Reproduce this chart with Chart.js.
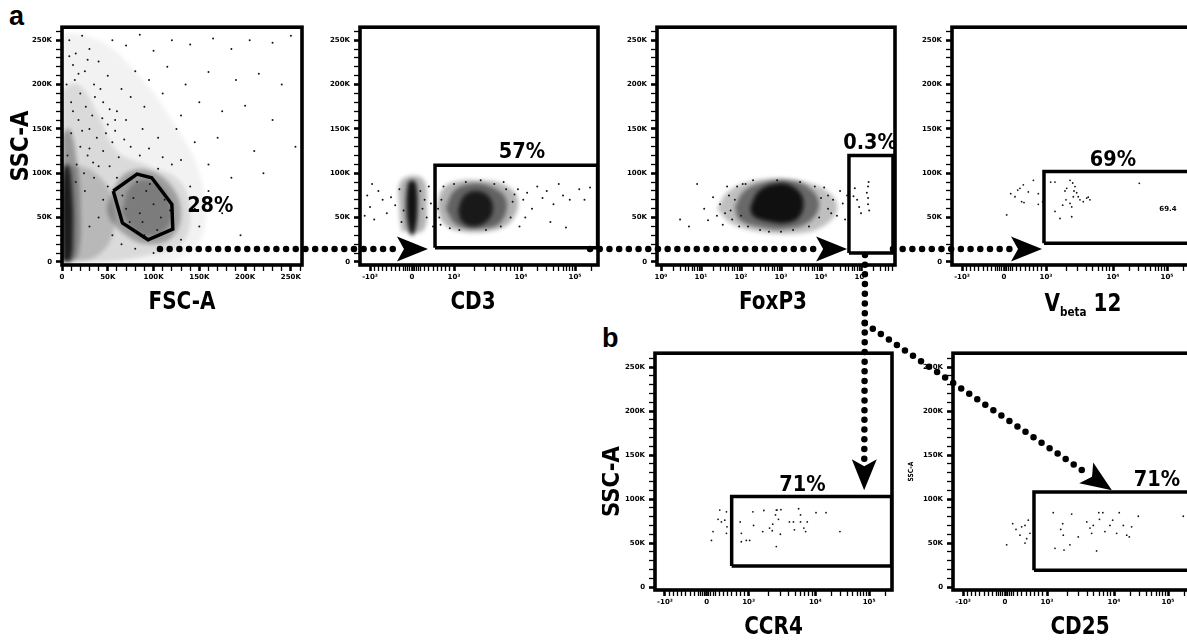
<!DOCTYPE html>
<html>
<head>
<meta charset="utf-8">
<script src="https://cdn.jsdelivr.net/npm/chart.js@4.4.1/dist/chart.umd.min.js"></script>
<style>
  html, body { margin: 0; padding: 0; background: #fff; }
  body { position: relative; width: 1187px; height: 642px; overflow: hidden; }
  canvas { position: absolute; }
  #overlay { left: 0; top: 0; z-index: 10; pointer-events: none; }
  .panel { position: absolute; font: bold 27px "Liberation Sans", Arial, sans-serif; line-height: 1; color: #000; }
</style>
</head>
<body>
<div class="panel" style="left:9px;top:3px">a</div>
<div class="panel" style="left:602px;top:325px">b</div>
<canvas id="fsc"></canvas>
<canvas id="cd3"></canvas>
<canvas id="foxp3"></canvas>
<canvas id="vb12"></canvas>
<canvas id="ccr4"></canvas>
<canvas id="cd25"></canvas>
<canvas id="overlay" width="1187" height="642"></canvas>
<script>
// ===== values (SSC-A / FSC-A in thousands, fluorescence in channel units) =====
const fscCells = [
  [8,250],[15,235],[22,255],[30,240],[12,222],[25,215],[40,226],[55,250],[70,244],[85,256],[100,238],[120,250],
  [140,245],[165,252],[185,240],[205,250],[230,247],[250,255],[35,200],[50,210],[65,195],[80,215],[95,205],
  [115,220],[135,200],[160,214],[190,205],[215,212],[240,200],[20,190],[45,180],[60,170],[75,186],[90,175],
  [110,190],[130,165],[150,180],[175,170],[200,176],[230,160],[18,160],[30,150],[50,155],[70,160],[88,150],
  [105,140],[125,150],[145,135],[170,140],[210,125],[255,130],[10,145],[20,130],[28,120],[38,140],[45,125],
  [55,135],[62,118],[75,130],[85,120],[95,128],[110,118],[130,115],[160,110],[185,95],[220,100],[15,90],
  [25,80],[35,95],[45,70],[50,85],[40,50],[30,40],[55,30],[65,20],[80,15],[100,10],[130,25],[150,40],[145,60],
  [160,80],[175,55],[195,30],[120,110],[105,105],[140,85],[70,60],[78,72],[85,55],[92,80],[100,65],[108,50],
  [88,45],[96,88],[112,70],[74,45],[82,90],[104,36],[66,75],[118,58],[90,30],[5,200],[10,180],[14,205],
  [26,175],[33,165],[42,195],[48,145],[58,160],[6,120],[16,110],[24,100],[34,112],[52,108],[60,95],
  [8,232],[18,212],[28,228],[36,186],[44,162],[52,172],[12,170],[22,148],[40,108],[30,128],[58,148],[68,138]
];
const fscHalo  = [[0,0],[0,250],[40,250],[80,215],[120,160],[150,100],[155,35],[130,5],[70,0]];
const fscMid   = [[0,0],[0,190],[18,200],[40,165],[60,125],[95,108],[128,92],[140,55],[130,20],[95,8],[45,0]];
const fscLow   = [[0,0],[0,100],[20,108],[42,95],[55,70],[55,30],[35,5]];
const fscGateCloud = [[55,80],[70,100],[95,103],[120,85],[130,55],[120,28],[95,20],[70,30],[50,55]];
const fscCore  = [[65,55],[75,85],[95,92],[115,75],[118,45],[100,30],[80,35]];
const fscStripWide = [[0,0],[0,140],[8,150],[16,115],[20,60],[18,10],[10,0]];
const fscStrip = [[1,2],[0,60],[2,105],[7,110],[11,80],[12,30],[9,2]];
const lymphGate = [[56,80],[82,99],[98,95],[120,65],[121,37],[94,25],[66,44]];

const cd3Cells = [
  [-1100,75],[-1000,62],[-900,48],[-800,80],[-700,70],[-600,55],[-500,73],[-400,64],[-300,82],[-250,45],
  [-200,58],[-1200,52],[-950,88],[200,80],[250,60],[300,70],[350,50],[400,85],[450,66],[500,40],[550,75],
  [9000,82],[11000,70],[13000,78],[16000,60],[20000,85],[25000,72],[30000,80],[40000,65],[50000,88],
  [60000,75],[68000,39],[80000,70],[120000,82],[150000,70],[190000,84],[35000,45],[12000,50],[9500,40],
  [650,50],[700,70],[750,85],[900,38],[1000,88],[1200,36],[1500,90],[2500,92],[3000,36],[4000,88],
  [5000,40],[6000,82],[7000,50],[7500,68],[8000,76],[620,60],[680,42],[5500,90]
];
const cd3StripHalo = [[-250,35],[-300,60],[-250,92],[250,94],[350,60],[250,35]];
const cd3Strip = [[-60,33],[-130,55],[-100,88],[0,92],[100,88],[130,55],[60,33],[0,30]];
const cd3Halo  = [[600,62],[700,80],[1000,90],[2500,92],[6000,86],[9000,70],[7000,45],[3500,35],[1200,35],[750,44]];
const cd3Mid   = [[800,60],[1000,80],[1800,88],[3500,85],[6000,70],[5000,45],[2500,38],[1100,42]];
const cd3Core  = [[1150,58],[1400,74],[2100,80],[3300,74],[3800,58],[3000,45],[1900,40],[1300,46]];
const cd3Gate  = [548, 262144, 16, 109];

const foxp3Cells = [
  [3,48],[5,40],[8,88],[12,60],[15,47],[20,73],[25,52],[30,65],[35,42],[45,85],[55,58],[70,70],[90,40],
  [110,88],[12000,84],[15000,60],[20000,70],[25000,52],[30000,80],[35000,66],[40000,48],[45000,75],
  [65000,74],[70000,83],[80000,70],[90000,62],[100000,55],[140000,78],[150000,72],[150000,65],
  [160000,58],[150000,85],[155000,90],
  [40,55],[50,75],[60,48],[80,85],[100,52],[130,88],[150,40],[200,92],[300,36],[500,34],[800,92],
  [1000,34],[2000,36],[3000,90],[5000,40],[7000,85],[9000,50],[10000,72],[15000,75],[18000,55]
];
const foxp3Halo = [[25,60],[45,78],[150,90],[800,94],[5000,89],[18000,76],[25000,58],[11000,40],[2500,32],[300,34],[55,44]];
const foxp3Mid  = [[70,62],[120,80],[400,90],[1500,92],[5000,84],[9000,65],[5000,45],[1200,37],[250,40],[90,48]];
const foxp3Core = [[170,62],[280,80],[700,88],[1800,86],[3500,72],[3000,52],[1400,44],[450,46],[200,52]];
const foxp3Gate = [50000, 630000, 10, 120];

const vb12Cells = [
  [64,53],[160,77],[262,73.5],[326,81],[380,83],[460,87],[420,68],[476,67],[580,79],[700,92],[817,77],
  [817,65],[920,68],[1175,90],[1362,90],[1362,57],[1618,49],[1775,64],[1920,80],[2036,83],[1987,70],
  [2283,92],[2504,89],[2556,73.5],[2619,80],[2710,85],[2420,62],[2283,66],[2420,51],[2870,78],[3030,73.5],
  [3215,70],[3600,68],[4050,72],[4270,73],[4530,70],[30700,88.6]
];
const vb12Gate = [952, 262144, 21, 102];

const ccr4Cells = [
  [112,53],[150,63],[270,77],[310,87.5],[350,74],[430,76],[470,85.5],[483,68.5],[470,61],[800,74],[826,61],
  [826,51.5],[945,53],[1035,53],[1160,85.5],[1187,70],[1630,63],[1690,87],[2060,67],[2260,64],[2300,71.5],
  [2530,82],[2600,87.5],[2670,87.5],[3050,88],[2800,77],[2600,46],[2990,60],[4090,74],[4700,74],[4860,65],
  [5620,89],[6000,82],[6000,74],[6730,67],[7150,63],[7570,74],[10300,84.5],[15800,84.5],[28700,63]
];
const ccr4Gate = [595, 262144, 24, 103];

const cd25Cells = [
  [40,48],[183,72],[262,65.5],[357,59],[397,68.5],[476,70],[516,55],[476,50],[555,76],[595,61],[1240,84.5],
  [1316,44],[1600,65.5],[1716,72],[1750,59],[1795,42],[2200,48],[2335,83],[2930,57],[3920,74],[4380,67],
  [4640,61],[4900,70],[5500,41],[5930,84.5],[6070,77],[6810,84.5],[7320,63],[8700,70],[9550,76],[11200,61],
  [12500,84.5],[14900,70],[17200,59],[19200,57],[21200,68.5],[28200,80.5],[192000,80.5]
];
const cd25Gate = [690, 262144, 19, 108];

// gate percentages: [text, x, y]
const fscPct = ['28%', 162, 63];
const cd3Pct = ['57%', 10400, 124];
const foxp3Pct = ['0.3%', 168000, 134];
const vb12Pct = ['69%', 10000, 115];
const ccr4Pct = ['71%', 6400, 116];
const cd25Pct = ['71%', 62500, 121.5];
const vb12Stat = ['69.4', 104000, 60];

// axis ticks
const linTicks = [0,10,20,30,40,50,60,70,80,90,100,110,120,130,140,150,160,170,180,190,200,210,220,230,240,250,260];
const logicleMajor = [-1000, 0, 1000, 10000, 100000];
const logicleLabels = ['-10³', '0', '10³', '10⁴', '10⁵'];
const logicleMinor = [-900,-800,-700,-600,-500,-400,-300,-200,-150,-100,-50,50,100,150,200,300,400,500,600,700,800,900,
  2000,3000,4000,5000,6000,7000,8000,9000,20000,30000,40000,50000,60000,70000,80000,90000,200000];
const logDecades = [0, 1, 2, 3, 4, 5];
const logLabels = ['10⁰', '10¹', '10²', '10³', '10⁴', '10⁵'];

// dotted gating arrows: [from panel, x, y, to panel, x, y]
const flowArrows = [
  ['fsc', 107, 14.6, 'cd3', 380, 14.6],
  ['cd3', 190000, 14.6, 'foxp3', 45000, 14.6],
  ['foxp3', 630000, 14.6, 'vb12', 905, 14.6],
  ['foxp3', 126000, 7.9, 'ccr4', 81000, 110]
];
// branch off the 4th arrow: [fraction along it, to panel, x, y]
const branchArrow = [0.29, 'cd25', 9300, 110];

// ===== drawing =====
const K = 1000;
const FONT = '"DejaVu Sans", sans-serif';

// biexponential-like display transform (px units for a 238px plot)
function biex(v) {
  const s = Math.sign(v), m = Math.abs(v);
  if (m <= 1000) return v * 42 / 1000;
  if (m <= 10000) return s * (42 + 67 * Math.log10(m / 1000));
  return s * (109 + 54 * Math.log10(m / 10000));
}
const same = v => v;
const thousands = v => v * K;

function linTickDefs() {
  return linTicks.map(v => ({ v, major: v % 50 === 0, label: v % 50 ? '' : (v ? v + 'K' : '0') }));
}
function logicleTicks() {
  const t = logicleMajor.map((v, i) => ({ v, major: true, label: logicleLabels[i] }));
  logicleMinor.forEach(v => t.push({ v, major: false, label: '' }));
  return t.sort((a, b) => a.v - b.v);
}
function logTicks() {
  const t = [];
  logDecades.forEach((d, i) => {
    for (let m = 1; m <= 9; m++) {
      const v = m * Math.pow(10, d);
      if (v < 7e5) t.push({ v, major: m === 1, label: m === 1 ? logLabels[i] : '' });
    }
  });
  return t;
}

// condensed bold text, like the figure's heavy narrow face
function narrowText(ctx, txt, x, y, size, rot, squeeze) {
  ctx.save();
  ctx.translate(x, y);
  if (rot) ctx.rotate(rot);
  ctx.scale(squeeze || 0.8, 1);
  ctx.font = 'bold ' + size + 'px ' + FONT;
  ctx.textAlign = 'center'; ctx.textBaseline = 'middle';
  ctx.fillText(txt, 0, 0);
  ctx.restore();
}

const panels = {};

function panel(id, box, cfg) {
  const cv = document.getElementById(id);
  const W = 53 + box.w + 8, H = 8 + box.h + 64;
  cv.width = W; cv.height = H;
  cv.style.left = (box.l - 53) + 'px';
  cv.style.top = (box.t - 8) + 'px';
  const mx = cfg.mapX;
  const P = ([x, y]) => ({ x: mx(x), y: y * K });
  const ds = [];
  cfg.clouds.forEach(([pts, a]) => ds.push({
    type: 'line', data: pts.concat([pts[0]]).map(P), fill: 'shape',
    backgroundColor: 'rgba(0,0,0,' + a + ')', borderWidth: 0, pointRadius: 0,
    tension: 0.4, order: 3, cloud: true
  }));
  ds.push({ type: 'scatter', data: cfg.cells.map(P), pointRadius: cfg.dot || 1,
    backgroundColor: '#151515', borderWidth: 0, order: 2 });
  let gate = cfg.gate;
  if (gate.length === 4) {
    const [x0, x1, y0, y1] = gate;
    gate = [[x0, y0], [x0, y1], [x1, y1], [x1, y0]];
  }
  ds.push({ type: 'line', data: gate.concat([gate[0]]).map(P), borderColor: '#000',
    borderWidth: 3.5, borderJoinStyle: 'miter', pointRadius: 0, fill: false, tension: 0, order: 1 });

  const xt = cfg.xTicks;
  const yt = linTickDefs();
  const tickGrid = {
    drawOnChartArea: false, drawTicks: true, tickLength: 6, color: '#000', tickColor: '#000',
    tickWidth: c => (c.tick && c.tick.major ? 2.6 : 1.3)
  };
  const tickFont = { family: FONT, size: 7, weight: 'bold' };

  const decor = {
    id: 'decor',
    beforeDatasetsDraw(chart) { chart.ctx.save(); chart.ctx.filter = 'blur(2px)'; },
    beforeDatasetDraw(chart, args) {
      if (!chart.data.datasets[args.index].cloud) chart.ctx.filter = 'none';
    },
    afterDatasetsDraw(chart) { chart.ctx.restore(); },
    afterDraw(chart) {
      const ctx = chart.ctx, a = chart.chartArea;
      ctx.save();
      ctx.lineWidth = 3.6; ctx.strokeStyle = '#000';
      ctx.strokeRect(a.left, a.top, a.right - a.left, a.bottom - a.top);
      ctx.fillStyle = '#000';
      (cfg.notes || []).forEach(([txt, x, y], i) => {
        const px = chart.scales.x.getPixelForValue(mx(x)), py = chart.scales.y.getPixelForValue(y * K);
        if (i === 0) narrowText(ctx, txt, px, py, 22, 0, 0.88);
        else narrowText(ctx, txt, px, py, 7, 0, 1);
      });
      const cx = (a.left + a.right) / 2 + (cfg.xTitleShift || 0);
      if (cfg.xTitle) narrowText(ctx, cfg.xTitle, cx, a.bottom + 37, 25, 0, 0.8);
      if (cfg.yTitle) narrowText(ctx, cfg.yTitle, a.left - (cfg.yTitleGap || 41),
        (a.top + a.bottom) / 2 + (cfg.yTitleShift || 0), cfg.yTitleSize || 25, -Math.PI / 2, 0.85);
      if (cfg.subTitle) {
        const [main, sub, tail] = cfg.subTitle;
        const by = a.bottom + 46;
        ctx.save();
        ctx.translate(cx + 12, 0);
        ctx.scale(0.8, 1);
        ctx.textAlign = 'left'; ctx.textBaseline = 'alphabetic';
        ctx.font = 'bold 25px ' + FONT;
        const w1 = ctx.measureText(main).width, w3 = ctx.measureText(tail).width;
        ctx.font = 'bold 13px ' + FONT;
        const w2 = ctx.measureText(sub).width;
        let x = -(w1 + w2 + w3) / 2;
        ctx.font = 'bold 25px ' + FONT; ctx.fillText(main, x, by); x += w1;
        ctx.font = 'bold 13px ' + FONT; ctx.fillText(sub, x, by + 5); x += w2;
        ctx.font = 'bold 25px ' + FONT; ctx.fillText(tail, x, by);
        ctx.restore();
      }
      ctx.restore();
    }
  };

  const chart = new Chart(cv, {
    type: 'scatter',
    data: { datasets: ds },
    options: {
      responsive: false, animation: false, events: [],
      layout: { padding: { top: 8, right: 8, left: 0, bottom: 15 }, autoPadding: false },
      plugins: { legend: { display: false }, tooltip: { enabled: false } },
      scales: {
        x: {
          type: cfg.xType, min: cfg.xMin, max: cfg.xMax,
          afterFit: s => { s.height = 49; },
          afterBuildTicks: s => { s.ticks = xt.map(t => ({ value: mx(t.v), major: t.major })); },
          ticks: { autoSkip: false, maxRotation: 0, minRotation: 0, padding: 2, color: '#000', font: tickFont,
            callback: (v, i) => xt[i].label },
          grid: tickGrid, border: { display: false }
        },
        y: {
          type: 'linear', min: cfg.yMin, max: cfg.yMax,
          afterFit: s => { s.width = 53; },
          afterBuildTicks: s => { s.ticks = yt.map(t => ({ value: t.v * K, major: t.major })); },
          ticks: { autoSkip: false, padding: 4, color: '#000', font: tickFont,
            callback: (v, i) => yt[i].label },
          grid: tickGrid, border: { display: false }
        }
      }
    },
    plugins: [decor]
  });
  panels[id] = { chart, mapX: mx };
}

const topY = { yMin: -3400, yMax: 264600 };
const botY = { yMin: -3400, yMax: 265900 };
const logicle = { xType: 'linear', xMin: -52, xMax: 186, mapX: biex, xTicks: logicleTicks() };

panel('fsc', { l: 62, t: 27, w: 240, h: 238 }, Object.assign({
  xType: 'linear', xMin: 0, xMax: 262144, mapX: thousands, xTicks: linTickDefs(),
  xTitle: 'FSC-A', yTitle: 'SSC-A',
  clouds: [[fscHalo, 0.05], [fscMid, 0.1], [fscLow, 0.16], [fscGateCloud, 0.28], [fscCore, 0.22],
           [fscStripWide, 0.3], [fscStrip, 0.8]],
  cells: fscCells, gate: lymphGate, notes: [fscPct]
}, topY));

panel('cd3', { l: 360, t: 27, w: 238, h: 238 }, Object.assign({}, logicle, {
  xTitle: 'CD3', xTitleShift: -6,
  clouds: [[cd3StripHalo, 0.3], [cd3Strip, 0.9], [cd3Halo, 0.3], [cd3Mid, 0.45], [cd3Core, 0.75]],
  cells: cd3Cells, gate: cd3Gate, notes: [cd3Pct]
}, topY));

panel('foxp3', { l: 657, t: 27, w: 238, h: 238 }, Object.assign({
  xType: 'logarithmic', xMin: 0.794, xMax: 707946, mapX: same, xTicks: logTicks(),
  xTitle: 'FoxP3', xTitleShift: -3,
  clouds: [[foxp3Halo, 0.25], [foxp3Mid, 0.45], [foxp3Core, 0.85]],
  cells: foxp3Cells, gate: foxp3Gate, notes: [foxp3Pct]
}, topY));

panel('vb12', { l: 952, t: 27, w: 238, h: 238 }, Object.assign({}, logicle, {
  subTitle: ['V', 'beta', ' 12'],
  clouds: [], cells: vb12Cells, dot: 0.9, gate: vb12Gate, notes: [vb12Pct, vb12Stat]
}, topY));

panel('ccr4', { l: 655, t: 353, w: 237, h: 237 }, Object.assign({}, logicle, {
  xTitle: 'CCR4', yTitle: 'SSC-A', yTitleGap: 43, yTitleShift: 10,
  clouds: [], cells: ccr4Cells, dot: 0.9, gate: ccr4Gate, notes: [ccr4Pct]
}, botY));

panel('cd25', { l: 953, t: 353, w: 238, h: 237 }, Object.assign({}, logicle, {
  xTitle: 'CD25', xTitleShift: 8, yTitle: 'SSC-A', yTitleSize: 7, yTitleGap: 42,
  clouds: [], cells: cd25Cells, dot: 0.9, gate: cd25Gate, notes: [cd25Pct]
}, botY));

// ===== gating arrows across panels =====
const ov = document.getElementById('overlay').getContext('2d');
function pagePt(id, x, y) {
  const p = panels[id];
  return [p.chart.canvas.offsetLeft + p.chart.scales.x.getPixelForValue(p.mapX(x)),
          p.chart.canvas.offsetTop + p.chart.scales.y.getPixelForValue(y * K)];
}
function dottedArrow(a, b) {
  const dx = b[0] - a[0], dy = b[1] - a[1], len = Math.hypot(dx, dy);
  const ux = dx / len, uy = dy / len;
  ov.save();
  ov.strokeStyle = '#000'; ov.fillStyle = '#000';
  ov.lineWidth = 6.5; ov.lineCap = 'round';
  ov.setLineDash([0, 9.7]);
  ov.beginPath(); ov.moveTo(a[0], a[1]); ov.lineTo(b[0] - ux * 27, b[1] - uy * 27); ov.stroke();
  ov.setLineDash([]);
  ov.translate(b[0], b[1]); ov.rotate(Math.atan2(dy, dx));
  ov.beginPath(); ov.moveTo(0, 0); ov.lineTo(-31, -12.5); ov.lineTo(-24, 0); ov.lineTo(-31, 12.5);
  ov.closePath(); ov.fill();
  ov.restore();
}
const ends = flowArrows.map(([f, x0, y0, t, x1, y1]) => [pagePt(f, x0, y0), pagePt(t, x1, y1)]);
ends.forEach(([a, b]) => dottedArrow(a, b));
const [frac, tid, bx, by] = branchArrow;
const [s4, e4] = ends[3];
dottedArrow([s4[0] + (e4[0] - s4[0]) * frac, s4[1] + (e4[1] - s4[1]) * frac], pagePt(tid, bx, by));
</script>
</body>
</html>
